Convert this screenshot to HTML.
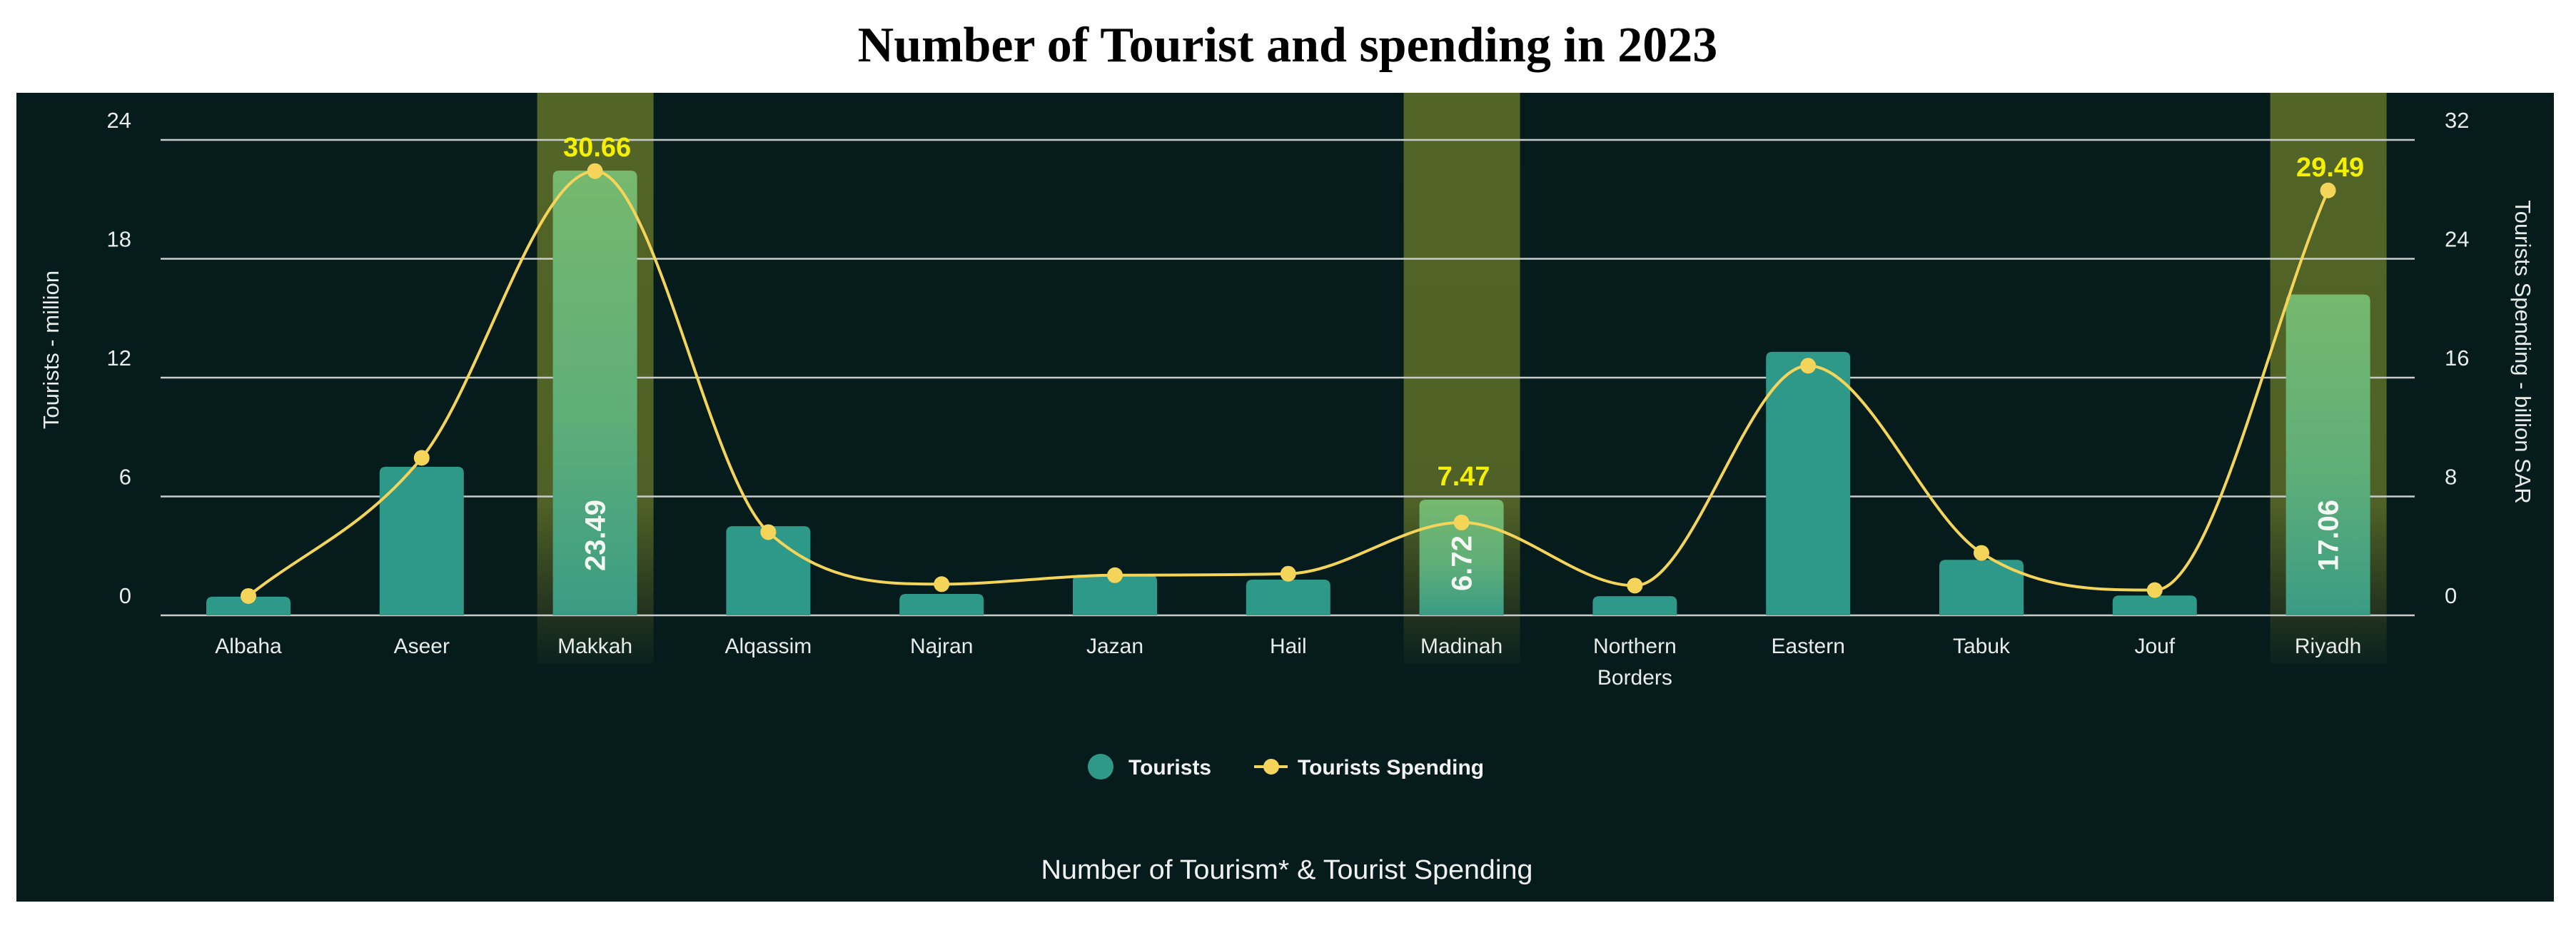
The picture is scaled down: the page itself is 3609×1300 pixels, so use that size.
<!DOCTYPE html>
<html><head><meta charset="utf-8"><style>
html,body{margin:0;padding:0;background:#fff;}
svg{display:block;}
</style></head><body>
<svg id="chart" width="3609" height="1300" viewBox="0 0 3609 1300" xmlns="http://www.w3.org/2000/svg" font-family="Liberation Sans, sans-serif">
<defs>
<linearGradient id="hlBar" x1="0" y1="0" x2="0" y2="1">
<stop offset="0" stop-color="#76b86e"/><stop offset="0.55" stop-color="#5fae78"/><stop offset="1" stop-color="#3a9c84"/>
</linearGradient>
<linearGradient id="band" x1="0" y1="0" x2="0" y2="1">
<stop offset="0" stop-color="#536427"/><stop offset="0.72" stop-color="#4f6126"/><stop offset="0.9" stop-color="#25351f"/><stop offset="1" stop-color="#0a211d"/>
</linearGradient>
</defs>
<text x="1804" y="86" text-anchor="middle" font-family="Liberation Serif, serif" font-weight="bold" font-size="70" fill="#000">Number of Tourist and spending in 2023</text>
<rect x="23" y="130" width="3555" height="1133" fill="#061c1c"/>
<g id="bands"></g>
<g id="grid"></g>
<g id="bars"></g>
<g id="line"></g>
<g id="labels"></g>
<text transform="translate(82,490) rotate(-90)" text-anchor="middle" font-size="31" fill="#e8ecea">Tourists - million</text>
<text transform="translate(3524,493) rotate(90)" text-anchor="middle" font-size="31" fill="#e8ecea">Tourists Spending - billion SAR</text>
<g>
<ellipse cx="1542" cy="1074" rx="18" ry="18" fill="#2e9988"/>
<text x="1581" y="1085" font-size="30" font-weight="bold" fill="#f2f2f2">Tourists</text>
<line x1="1757" y1="1074" x2="1804" y2="1074" stroke="#f5d45a" stroke-width="4"/>
<circle cx="1781" cy="1074" r="11" fill="#f5d45a"/>
<text x="1818" y="1085" font-size="30" font-weight="bold" fill="#f2f2f2">Tourists Spending</text>
</g>
<text x="1803" y="1231" text-anchor="middle" font-size="38" fill="#f2f2f2" textLength="689" lengthAdjust="spacingAndGlyphs">Number of Tourism* &amp; Tourist Spending</text>
</svg>
<script>
const categories = ["Albaha","Aseer","Makkah","Alqassim","Najran","Jazan","Hail","Madinah","Northern Borders","Eastern","Tabuk","Jouf","Riyadh"];
const tourists = [0.94,7.5,22.45,4.5,1.08,2.05,1.8,5.84,0.97,13.3,2.8,1.0,16.2];
const spending = [1.3,10.6,29.9,5.6,2.1,2.7,2.8,6.25,2.0,16.8,4.2,1.7,28.6];
const highlighted = ["Makkah","Madinah","Riyadh"];
const spendLabels = {"Makkah":"30.66","Madinah":"7.47","Riyadh":"29.49"};
const touristLabels = {"Makkah":"23.49","Madinah":"6.72","Riyadh":"17.06"};
const leftTicks = [0,6,12,18,24];
const rightTicks = [0,8,16,24,32];

const NS="http://www.w3.org/2000/svg";
const x0=348, step=242.8, yBase=862, yTop=196, gridL=225, gridR=3383;
const xOf=i=>x0+i*step;
const yL=v=>yBase-(v/24)*(yBase-yTop);
const yR=v=>yBase-(v/32)*(yBase-yTop);
function mk(tag,attrs,parent){const e=document.createElementNS(NS,tag);for(const k in attrs)e.setAttribute(k,attrs[k]);parent.appendChild(e);return e;}
const gBands=document.getElementById('bands'),gGrid=document.getElementById('grid'),gBars=document.getElementById('bars'),gLine=document.getElementById('line'),gLab=document.getElementById('labels');

categories.forEach((c,i)=>{
  if(highlighted.includes(c)){
    const b=mk('rect',{x:xOf(i)-81,y:130,width:163,height:800,fill:'url(#band)'},gBands);
    
    
  }
});
leftTicks.forEach((t,k)=>{
  const y=yL(t);
  const l=mk('line',{x1:gridL,y1:y,x2:gridR,y2:y,stroke:'#c9cccb','stroke-width':2.5},gGrid);
  
  
  const a=mk('text',{x:184,y:y-17,'text-anchor':'end','font-size':31,fill:'#e8ecea'},gGrid);
  a.textContent=t;
  
  
  const r=rightTicks[k];
  const b=mk('text',{x:3425,y:yR(r)-17,'font-size':31,fill:'#e8ecea'},gGrid);
  b.textContent=r;
  
  
});
categories.forEach((c,i)=>{
  const cx=xOf(i), top=yL(tourists[i]), h=yBase-top, hl=highlighted.includes(c);
  const r=Math.min(9,h/2);
  const d=`M${cx-59},${yBase} L${cx-59},${top+r} Q${cx-59},${top} ${cx-59+r},${top} L${cx+59-r},${top} Q${cx+59},${top} ${cx+59},${top+r} L${cx+59},${yBase} Z`;
  const bar=mk('path',{d:d,fill:hl?'url(#hlBar)':'#2e9988'},gBars);
  
  
  const parts=c.split(' ');
  parts.forEach((p,k)=>{
    const t=mk('text',{x:cx,y:915+k*44,'text-anchor':'middle','font-size':30,fill:'#e8ecea'},gLab);
    t.textContent=p;
    
    
  });
  if(touristLabels[c]){
    const cyT=yBase-Math.min(h*0.45,112);
    const t=mk('text',{transform:`translate(${cx+14},${cyT}) rotate(-90)`,'text-anchor':'middle','font-size':40,'font-weight':'bold',fill:'#f4f8f4'},gLab);
    t.textContent=touristLabels[c];
    
    
  }
});
// monotone cubic (Fritsch-Carlson)
const pts=spending.map((v,i)=>[xOf(i),yR(v)]);
const n=pts.length, dx=step;
const sl=[];for(let i=0;i<n-1;i++)sl.push((pts[i+1][1]-pts[i][1])/dx);
const m=[];
for(let i=0;i<n;i++){
  if(i===0)m.push(sl[0]);else if(i===n-1)m.push(sl[n-2]);
  else m.push(sl[i-1]*sl[i]<=0?0:(sl[i-1]+sl[i])/2);
}
for(let i=0;i<n-1;i++){
  if(sl[i]===0){m[i]=0;m[i+1]=0;continue;}
  const a=m[i]/sl[i],b=m[i+1]/sl[i],s=a*a+b*b;
  if(s>9){const t=3/Math.sqrt(s);m[i]=t*a*sl[i];m[i+1]=t*b*sl[i];}
}
let d=`M${pts[0][0]},${pts[0][1]}`;
for(let i=0;i<n-1;i++){
  const p1=pts[i],p2=pts[i+1];
  d+=` C${p1[0]+dx/3},${p1[1]+m[i]*dx/3} ${p2[0]-dx/3},${p2[1]-m[i+1]*dx/3} ${p2[0]},${p2[1]}`;
}
const line=mk('path',{d:d,fill:'none',stroke:'#f5d45a','stroke-width':4},gLine);


pts.forEach((p,i)=>{
  const c=mk('circle',{cx:p[0],cy:p[1],r:11,fill:'#f5d45a'},gLine);
  
  
  const lab=spendLabels[categories[i]];
  if(lab){
    const top=Math.min(p[1],yL(tourists[i]));
    const t=mk('text',{x:p[0]+3,y:top-20,'text-anchor':'middle','font-size':38,'font-weight':'bold',fill:'#f5f000'},gLab);
    t.textContent=lab;
    
    
  }
});
</script>
</body></html>
